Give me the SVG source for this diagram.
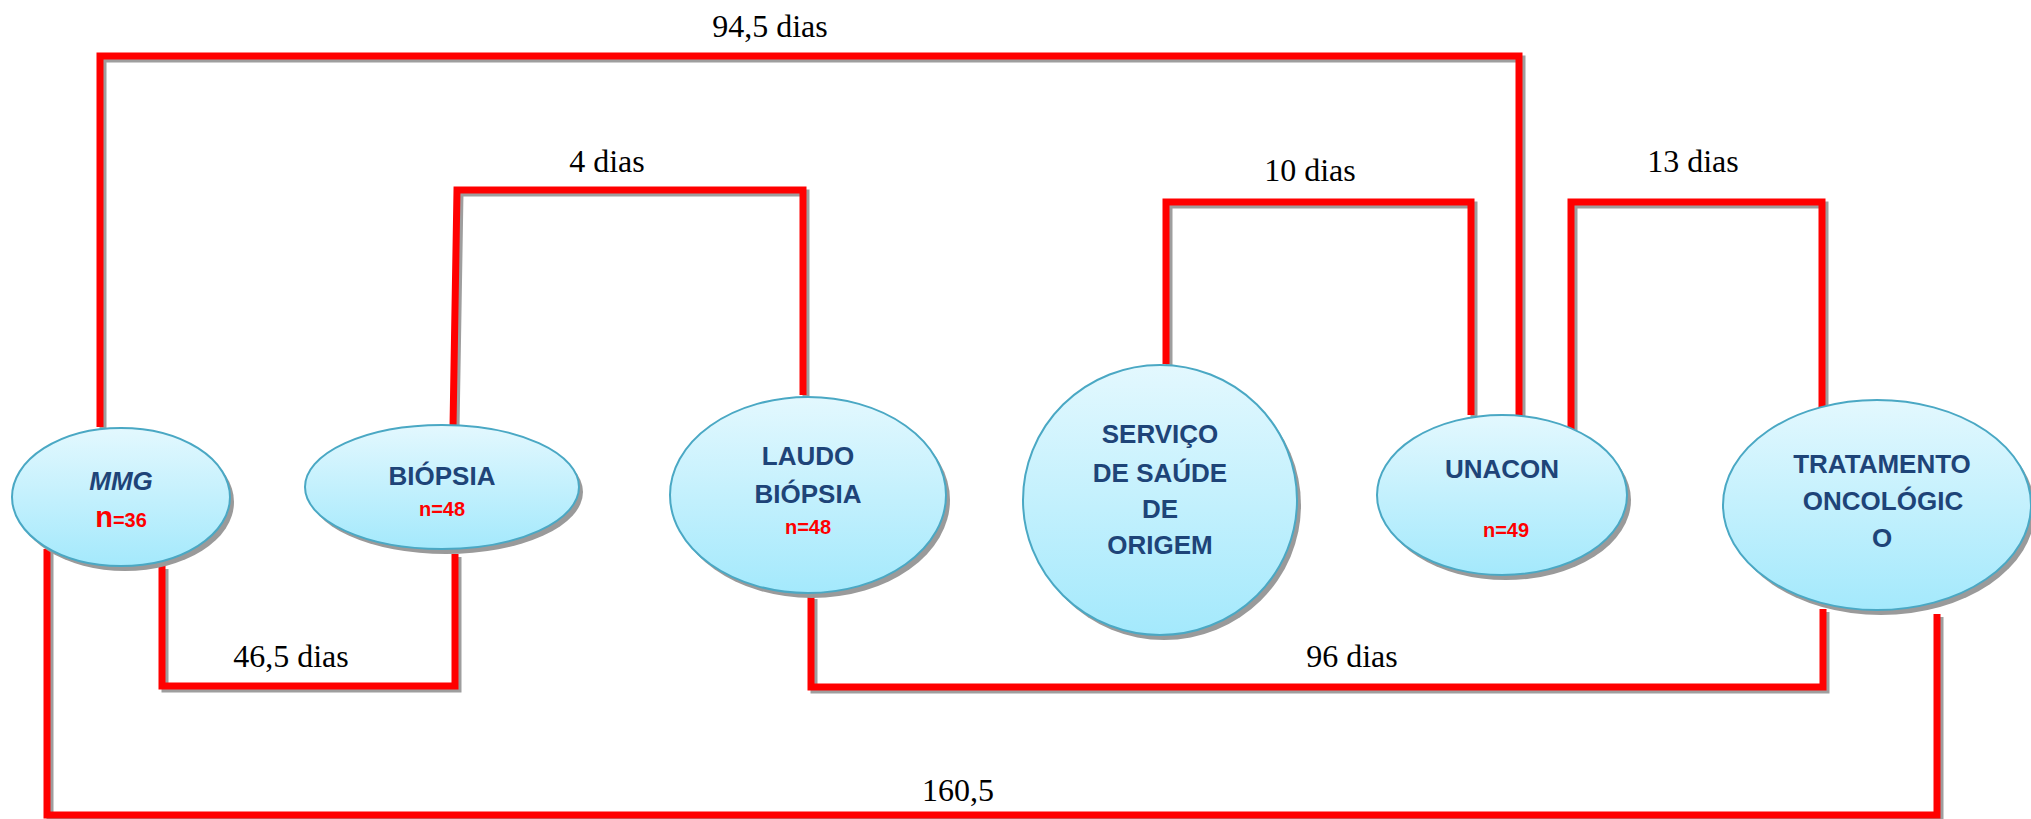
<svg xmlns="http://www.w3.org/2000/svg" xmlns:xlink="http://www.w3.org/1999/xlink" width="2031" height="819" viewBox="0 0 2031 819">
<style>
.sh{stroke:#9e9e9e;stroke-width:7;fill:none;stroke-linejoin:miter}
.ln{stroke:#ff0000;stroke-width:7;fill:none;stroke-linejoin:miter}
.es{fill:#9a9a9a}
.e{fill:url(#g);stroke:#4aa8c4;stroke-width:2}
.t{font-family:"Liberation Sans","DejaVu Sans",sans-serif;font-weight:bold;font-size:26px;fill:#1e4478;text-anchor:middle}
.n{font-family:"Liberation Sans","DejaVu Sans",sans-serif;font-weight:bold;font-size:20px;fill:#ff0000;text-anchor:middle}
.lbl{font-family:"Liberation Serif","Times New Roman",serif;font-size:32px;fill:#000;text-anchor:middle}
</style>
<defs>
<linearGradient id="g" x1="0" y1="0" x2="0" y2="1">
<stop offset="0" stop-color="#e3f8fe"/>
<stop offset="1" stop-color="#a4e9fc"/>
</linearGradient>
<path id="c1" d="M100,427 V56 H1519 V417"/>
<path id="c2" d="M453,427 L457,190 H803 V395"/>
<path id="c3" d="M1166,364 V202 H1471 V415"/>
<path id="c4" d="M1571,430 V202 H1822 V414"/>
<path id="c5" d="M162,566 V686 H455 V554"/>
<path id="c6" d="M811,596 V687 H1823 V609"/>
<path id="c7" d="M47,549 V815 H1937 V614"/>
</defs>
<rect width="2031" height="819" fill="#ffffff"/>
<g id="connectors">
<g transform="translate(3,3)">
<use xlink:href="#c1" class="sh"/><use xlink:href="#c2" class="sh"/><use xlink:href="#c3" class="sh"/><use xlink:href="#c4" class="sh"/><use xlink:href="#c5" class="sh"/><use xlink:href="#c6" class="sh"/><use xlink:href="#c7" class="sh"/>
</g>
<use xlink:href="#c1" class="ln"/><use xlink:href="#c2" class="ln"/><use xlink:href="#c3" class="ln"/><use xlink:href="#c4" class="ln"/><use xlink:href="#c5" class="ln"/><use xlink:href="#c6" class="ln"/><use xlink:href="#c7" class="ln"/>
<text class="lbl" x="770" y="37">94,5 dias</text>
<text class="lbl" x="607" y="172">4 dias</text>
<text class="lbl" x="1310" y="181">10 dias</text>
<text class="lbl" x="1693" y="172">13 dias</text>
<text class="lbl" x="291" y="667">46,5 dias</text>
<text class="lbl" x="1352" y="667">96 dias</text>
<text class="lbl" x="958" y="801">160,5</text>
</g>
<g id="mmg">
<ellipse class="es" cx="125" cy="502" rx="109" ry="69"/>
<ellipse class="e" cx="121" cy="497" rx="109" ry="69"/>
<text class="t" x="121" y="490" font-style="italic">MMG</text>
<text class="n" x="121" y="527"><tspan font-size="29">n</tspan>=36</text>
</g>
<g id="biopsia">
<ellipse class="es" cx="446" cy="492" rx="137" ry="62"/>
<ellipse class="e" cx="442" cy="487" rx="137" ry="62"/>
<text class="t" x="442" y="485" font-size="27">BIÓPSIA</text>
<text class="n" x="442" y="516">n=48</text>
</g>
<g id="laudo">
<ellipse class="es" cx="812" cy="500" rx="138" ry="98"/>
<ellipse class="e" cx="808" cy="495" rx="138" ry="98"/>
<text class="t" x="808" y="465">LAUDO</text>
<text class="t" x="808" y="503" font-size="27">BIÓPSIA</text>
<text class="n" x="808" y="534">n=48</text>
</g>
<g id="servico">
<ellipse class="es" cx="1164" cy="505" rx="137" ry="135"/>
<ellipse class="e" cx="1160" cy="500" rx="137" ry="135"/>
<text class="t" x="1160" y="443">SERVIÇO</text>
<text class="t" x="1160" y="482">DE SAÚDE</text>
<text class="t" x="1160" y="518">DE</text>
<text class="t" x="1160" y="554">ORIGEM</text>
</g>
<g id="unacon">
<ellipse class="es" cx="1506" cy="500" rx="125" ry="80"/>
<ellipse class="e" cx="1502" cy="495" rx="125" ry="80"/>
<text class="t" x="1502" y="478">UNACON</text>
<text class="n" x="1506" y="537">n=49</text>
</g>
<g id="tratamento">
<ellipse class="es" cx="1881" cy="510" rx="154" ry="105"/>
<ellipse class="e" cx="1877" cy="505" rx="154" ry="105"/>
<text class="t" x="1882" y="473" font-size="25">TRATAMENTO</text>
<text class="t" x="1883" y="510" font-size="25">ONCOLÓGIC</text>
<text class="t" x="1882" y="547" font-size="25">O</text>
</g>
</svg>
